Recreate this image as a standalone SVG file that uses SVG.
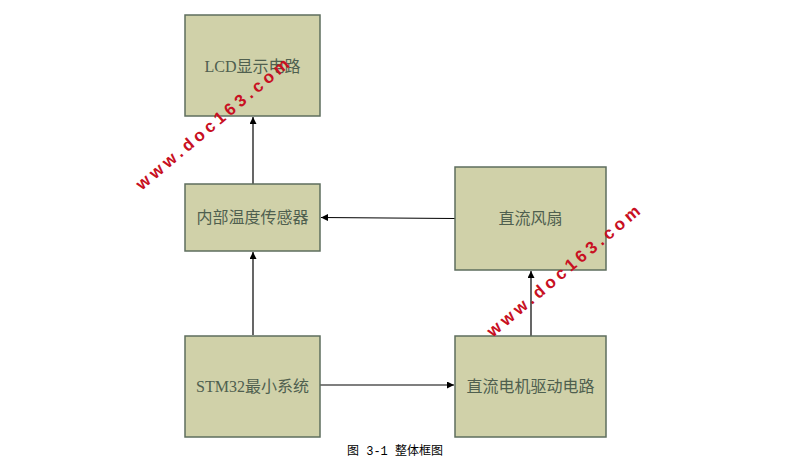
<svg xmlns="http://www.w3.org/2000/svg" width="800" height="463" viewBox="0 0 800 463">
<style>
.box{fill:#d0d1a9;stroke:#5e6e5e;stroke-width:1.5}
.lbl{font-family:"Liberation Serif","Noto Sans CJK SC",serif;font-size:16px;fill:#4f5f4f;text-anchor:middle;dominant-baseline:central}
.conn{stroke:#000;stroke-width:1.2;fill:none;marker-end:url(#arr)}
.wm{font-family:"Liberation Sans",Arial,sans-serif;font-weight:bold;font-size:17px;fill:#c81022;letter-spacing:4px;text-anchor:middle;dominant-baseline:central}
.cap{font-family:"Liberation Mono","Noto Sans CJK SC",monospace;font-size:12px;fill:#000;text-anchor:middle}
</style>
<defs>
<marker id="arr" viewBox="0 0 10 10" refX="10" refY="5" markerWidth="7" markerHeight="7" markerUnits="userSpaceOnUse" orient="auto">
<path d="M0,0 L10,5 L0,10 z" fill="#000"/>
</marker>
</defs>
<rect width="800" height="463" fill="#fff"/>
<g id="connectors">
<line class="conn" x1="253" y1="184" x2="253" y2="117"/>
<line class="conn" x1="253" y1="335" x2="253" y2="252"/>
<line class="conn" x1="455" y1="218.5" x2="321" y2="217.5"/>
<line class="conn" x1="320" y1="385" x2="454" y2="385"/>
<line class="conn" x1="531" y1="336" x2="531" y2="271"/>
</g>
<g id="lcd">
<rect class="box" x="185" y="15" width="135" height="101"/>
<text class="lbl" x="252.5" y="66">LCD显示电路</text>
</g>
<g id="sensor">
<rect class="box" x="185" y="184" width="135" height="67"/>
<text class="lbl" x="252.5" y="217">内部温度传感器</text>
</g>
<g id="stm32">
<rect class="box" x="185" y="336" width="135" height="101"/>
<text class="lbl" x="252.5" y="386">STM32最小系统</text>
</g>
<g id="fan">
<rect class="box" x="455" y="167" width="151" height="103"/>
<text class="lbl" x="530.5" y="218">直流风扇</text>
</g>
<g id="driver">
<rect class="box" x="455" y="336" width="151" height="101"/>
<text class="lbl" x="530.5" y="386">直流电机驱动电路</text>
</g>
<text class="cap" x="395" y="455">图 3-1 整体框图</text>
<text class="wm" transform="translate(214,123) rotate(-40)">www.doc163.com</text>
<text class="wm" transform="translate(565,270) rotate(-40)">www.doc163.com</text>
</svg>
